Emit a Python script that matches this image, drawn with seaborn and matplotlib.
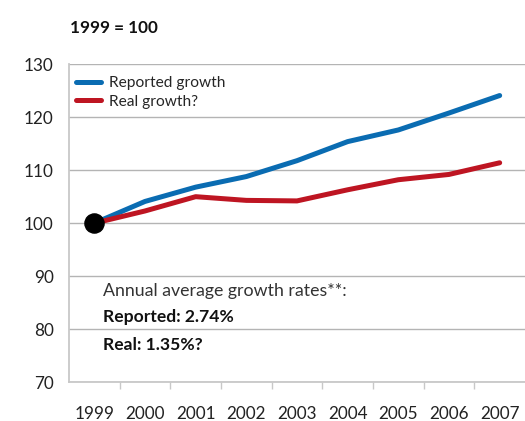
import matplotlib
matplotlib.use("Agg")
import matplotlib.pyplot as plt
import seaborn as sns
import pandas as pd

# Index values, 1999 = 100
years = [1999, 2000, 2001, 2002, 2003, 2004, 2005, 2006, 2007]
reported = [100.0, 104.1, 106.8, 108.8, 111.8, 115.4, 117.6, 120.8, 124.1]
real = [100.0, 102.3, 105.0, 104.3, 104.2, 106.3, 108.2, 109.2, 111.4]
series_names = ["Reported growth", "Real growth?"]
colors = ["#0a6cb2", "#be1522"]

title_text = "1999 = 100"
note_lines = ["Annual average growth rates**:", "Reported: 2.74%", "Real: 1.35%?"]

sns.set_theme(style="white")
plt.rcParams["font.family"] = ["Lato", "DejaVu Sans"]

df = pd.concat([
    pd.DataFrame({"year": years, "value": reported, "series": series_names[0]}),
    pd.DataFrame({"year": years, "value": real, "series": series_names[1]}),
])

fig = plt.figure(figsize=(5.25, 4.21), dpi=100)
ax = fig.add_axes([69 / 525, 1 - 382 / 421, 456 / 525, (382 - 64.3) / 421])

sns.lineplot(data=df, x="year", y="value", hue="series",
             palette=dict(zip(series_names, colors)), linewidth=3.6,
             solid_capstyle="round", solid_joinstyle="round", ax=ax, zorder=3)

# Base-year marker
ax.scatter([years[0]], [reported[0]], s=190, color="black", zorder=5)

ax.set_xlim(years[0] - 0.5, years[-1] + 0.5)
ax.set_ylim(70, 130)
ax.set_yticks(range(70, 131, 10))
ax.set_xticks(years)
ax.set_xticklabels([str(y) for y in years])
ax.set_xticks([y + 0.5 for y in years[:-1]], minor=True)
ax.tick_params(axis="x", which="major", length=0, labelsize=12.3, pad=17, colors="#222222")
ax.tick_params(axis="x", which="minor", length=5, width=1, color="#c8c8c8", bottom=True)
ax.tick_params(axis="y", length=0, labelsize=12.3, pad=11, colors="#222222")
ax.set_xlabel("")
ax.set_ylabel("")

ax.grid(axis="y", color="#b4b4b4", linewidth=1.0)
ax.set_axisbelow(True)
for side in ["top", "right"]:
    ax.spines[side].set_visible(False)
for side in ["left", "bottom"]:
    ax.spines[side].set_color("#c8c8c8")
    ax.spines[side].set_linewidth(1.3)

leg = ax.legend(loc="upper left", bbox_to_anchor=(0.0, 0.985), frameon=False,
                fontsize=11.2, handlelength=1.6, handletextpad=0.55,
                labelspacing=0.3, borderpad=0.45, borderaxespad=0.0)
leg.set_zorder(4)
for h in leg.get_lines():
    h.set_linewidth(3.6)

fig.text(70 / 525, 1 - 28 / 421, title_text, fontsize=12.3, fontweight="bold",
         va="center", ha="left", color="#111111")

ax.text(0.0746, 0.286, note_lines[0], transform=ax.transAxes, fontsize=12.8,
        va="center", ha="left", color="#333333")
ax.text(0.0746, 0.205, note_lines[1], transform=ax.transAxes, fontsize=12.6,
        fontweight="bold", va="center", ha="left", color="#111111")
ax.text(0.0746, 0.118, note_lines[2], transform=ax.transAxes, fontsize=12.6,
        fontweight="bold", va="center", ha="left", color="#111111")

fig.savefig("out.png", dpi=100)
